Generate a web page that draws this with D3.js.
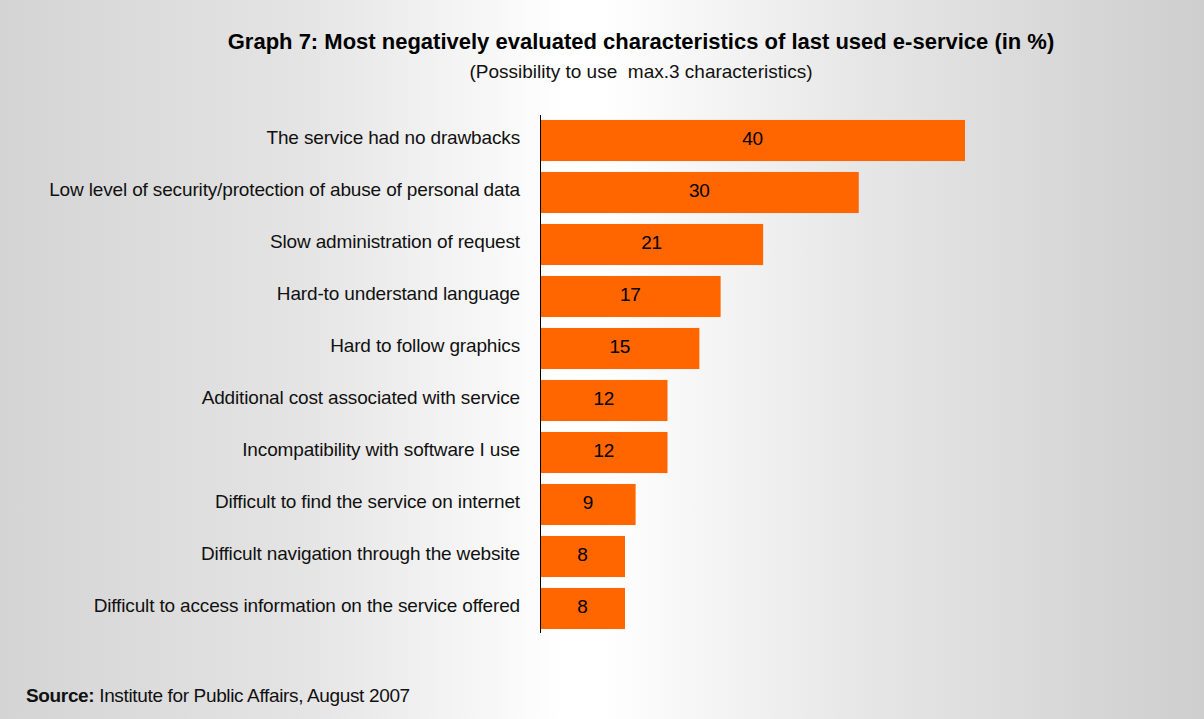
<!DOCTYPE html>
<html>
<head>
<meta charset="utf-8">
<script src="https://cdn.jsdelivr.net/npm/d3@7"></script>
<style>
  html, body { margin: 0; padding: 0; background: #fff; }
  svg { display: block; font-family: "Liberation Sans", Arial, sans-serif; }
</style>
</head>
<body>
<svg id="chart" width="1204" height="719"></svg>
<script>
// Share of respondents naming each characteristic (in %)
const categories = [
  "The service had no drawbacks",
  "Low level of security/protection of abuse of personal data",
  "Slow administration of request",
  "Hard-to understand language",
  "Hard to follow graphics",
  "Additional cost associated with service",
  "Incompatibility with software I use",
  "Difficult to find the service on internet",
  "Difficult navigation through the website",
  "Difficult to access information on the service offered"
];
const values = [40, 30, 21, 17, 15, 12, 12, 9, 8, 8];

const titleText = "Graph 7: Most negatively evaluated characteristics of last used e-service (in %)";
const subtitleText = "(Possibility to use  max.3 characteristics)";
const sourceLabel = "Source:";
const sourceText = " Institute for Public Affairs, August 2007";

const W = 1204, H = 719;
const svg = d3.select("#chart");

// Background: grey edges fading to white in the middle
const defs = svg.append("defs");
const grad = defs.append("linearGradient")
  .attr("id", "bg").attr("x1", "0").attr("x2", "1").attr("y1", "0").attr("y2", "0");
[[0, "#d4d4d4"], [0.25, "#e4e4e4"], [0.47, "#ffffff"], [0.5, "#ffffff"], [0.72, "#e6e6e6"], [1, "#cecece"]]
  .forEach(([o, c]) => grad.append("stop").attr("offset", o).attr("stop-color", c));
svg.append("rect").attr("width", W).attr("height", H).attr("fill", "url(#bg)");

const x0 = 540;
const x = d3.scaleLinear().domain([0, 40]).range([x0, 965]);
const y = d3.scaleBand().domain(categories).range([114.5, 634.5])
  .paddingInner(0.21).paddingOuter(0.105);

// Bars
svg.append("g").selectAll("rect").data(values).join("rect")
  .attr("x", x(0))
  .attr("y", (d, i) => y(categories[i]))
  .attr("width", d => x(d) - x(0))
  .attr("height", y.bandwidth())
  .attr("fill", "#ff6600");

// Value labels centred in the bars
svg.append("g").selectAll("text").data(values).join("text")
  .attr("x", d => (x(0) + x(d)) / 2)
  .attr("y", (d, i) => y(categories[i]) + y.bandwidth() / 2 - 2)
  .attr("dy", "0.35em")
  .attr("text-anchor", "middle")
  .attr("font-size", 19)
  .attr("letter-spacing", "-0.3px")
  .attr("fill", "#000")
  .text(d => d);

// Category axis
const yAxis = d3.axisLeft(y).tickSize(0).tickPadding(20);
const gy = svg.append("g").attr("transform", `translate(${x0},0)`).call(yAxis);
gy.select(".domain").attr("d", "M0.5,115V633").attr("stroke", "#000").attr("stroke-width", 1);
gy.selectAll(".tick text")
  .attr("font-family", "'Liberation Sans', Arial, sans-serif")
  .attr("font-size", 19)
  .attr("letter-spacing", "-0.15px")
  .attr("dy", "0.2em")
  .attr("fill", "#111");

// Titles
svg.append("text")
  .attr("x", 641).attr("y", 49)
  .attr("text-anchor", "middle")
  .attr("font-size", 22).attr("font-weight", "bold")
  .attr("fill", "#000")
  .text(titleText);
svg.append("text")
  .attr("x", 641).attr("y", 78)
  .attr("text-anchor", "middle")
  .attr("font-size", 19)
  .attr("xml:space", "preserve")
  .style("white-space", "pre")
  .attr("fill", "#111")
  .text(subtitleText);

// Source line
const src = svg.append("text").attr("x", 26).attr("y", 702)
  .attr("font-size", 19).attr("letter-spacing", "-0.35px").attr("fill", "#111");
src.append("tspan").attr("font-weight", "bold").text(sourceLabel);
src.append("tspan").style("white-space", "pre").text(sourceText);
</script>
</body>
</html>
